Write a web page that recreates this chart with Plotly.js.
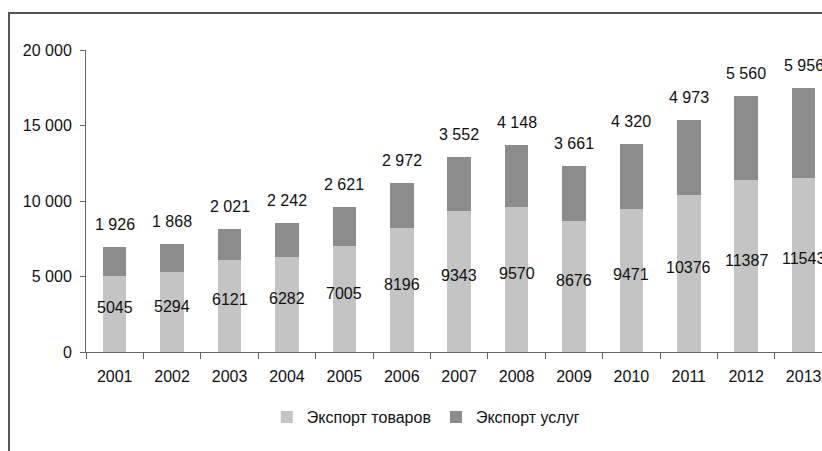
<!DOCTYPE html>
<html>
<head>
<meta charset="utf-8">
<script src="https://cdn.plot.ly/plotly-3.0.1.min.js"></script>
<style>
  html, body { margin: 0; padding: 0; background: #fff; overflow: hidden; }
  #wrap { position: relative; width: 822px; height: 451px; }
  #chart { position: absolute; left: 0; top: 0; width: 822px; height: 451px; }
  #frame { position: absolute; left: 8px; top: 12px; width: 900px; height: 500px;
           border-left: 2px solid #555; border-top: 2px solid #555; pointer-events: none; }
  #err { position: absolute; left: 100px; top: 20px; color: red; font: 12px sans-serif; }
</style>
</head>
<body>
<div id="wrap">
  <div id="chart"></div>
  <div id="frame"></div>
  <div id="err"></div>
</div>
<script>
window.onerror = function (m) { document.getElementById('err').textContent += ' ' + m; };
// Data
const years = ['2001','2002','2003','2004','2005','2006','2007','2008','2009','2010','2011','2012','2013'];
const goods = [5045, 5294, 6121, 6282, 7005, 8196, 9343, 9570, 8676, 9471, 10376, 11387, 11543];
const services = [1926, 1868, 2021, 2242, 2621, 2972, 3552, 4148, 3661, 4320, 4973, 5560, 5956];
const seriesNames = ['Экспорт товаров', 'Экспорт услуг'];

const FONT = 'Liberation Sans, Arial, sans-serif';
function fmtSpace(v) {
  const s = String(v);
  return s.length > 3 ? s.slice(0, s.length - 3) + ' ' + s.slice(s.length - 3) : s;
}

const traces = [
  { type: 'bar', x: years, y: goods, name: seriesNames[0],
    marker: { color: '#c4c4c4', line: { width: 0 } }, hoverinfo: 'skip' },
  { type: 'bar', x: years, y: services, name: seriesNames[1],
    marker: { color: '#8c8c8c', line: { width: 0 } }, hoverinfo: 'skip' }
];

const annotations = [];
for (let i = 0; i < years.length; i++) {
  annotations.push({ x: i, y: goods[i] / 2, xref: 'x', yref: 'y', text: String(goods[i]),
    showarrow: false, font: { family: FONT, size: 16, color: '#111' }, yanchor: 'middle', yshift: 6 });
  annotations.push({ x: i, y: goods[i] + services[i], xref: 'x', yref: 'y', text: fmtSpace(services[i]),
    showarrow: false, font: { family: FONT, size: 16, color: '#111' }, yanchor: 'bottom', yshift: 12 });
}

const layout = {
  width: 822, height: 451,
  margin: { l: 86, r: 0, t: 50, b: 99, pad: 0 },
  paper_bgcolor: '#fff', plot_bgcolor: '#fff',
  barmode: 'stack', bargap: 0.59,
  separators: ', ',
  font: { family: FONT, size: 16, color: '#111' },
  showlegend: true,
  legend: { orientation: 'h', xref: 'container', yref: 'container', x: 0.518, y: 0.075,
            xanchor: 'center', yanchor: 'middle', font: { family: FONT, size: 16, color: '#111' },
            traceorder: 'normal' },
  xaxis: { type: 'category', range: [-0.5, 12.32], showline: true, linecolor: '#666', linewidth: 1,
           ticks: 'outside', tickson: 'boundaries', ticklen: 6, tickcolor: '#666',
           showgrid: false, zeroline: false, ticklabelstandoff: 10, fixedrange: true },
  yaxis: { range: [0, 20000], tickvals: [0, 5000, 10000, 15000, 20000], tickformat: ',d',
           showline: true, linecolor: '#666', linewidth: 1, ticks: 'outside', ticklen: 5, tickcolor: '#666',
           showgrid: false, zeroline: false, ticklabelstandoff: 5, fixedrange: true },
  annotations: annotations
};

Plotly.newPlot('chart', traces, layout, { displayModeBar: false })
  .catch(function (e) { document.getElementById('err').textContent += ' ' + e; });
</script>
</body>
</html>
